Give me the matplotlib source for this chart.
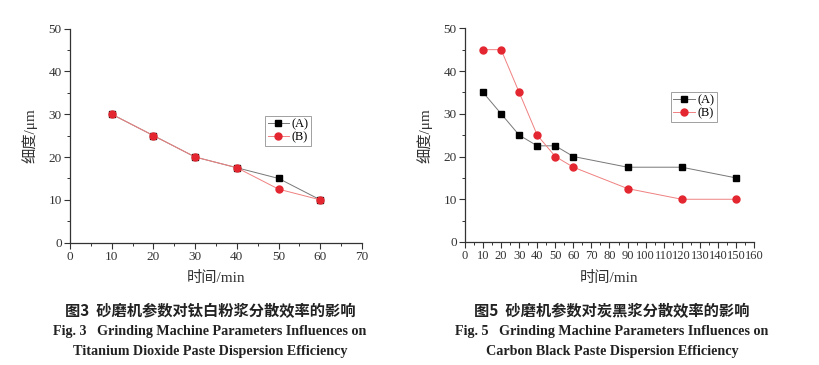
import matplotlib
matplotlib.use("Agg")
import matplotlib.pyplot as plt
from matplotlib.ticker import MultipleLocator

plt.rcParams['font.family'] = ['Liberation Serif', 'Noto Sans CJK SC']
plt.rcParams['mathtext.fontset'] = 'stix'

# Fig.3 data
t3 = [10, 20, 30, 40, 50, 60]
a3 = [30, 25, 20, 17.5, 15, 10]
b3 = [30, 25, 20, 17.5, 12.5, 10]

# Fig.5 data
t5 = [10, 20, 30, 40, 50, 60, 90, 120, 150]
a5 = [35, 30, 25, 22.5, 22.5, 20, 17.5, 17.5, 15]
b5 = [45, 45, 35, 25, 20, 17.5, 12.5, 10, 10]

labels = ['(A)', '(B)']
xlabel = '时间/min'
ylabel = '细度/μm'
cap3 = ['图3  砂磨机参数对钛白粉浆分散效率的影响',
        'Fig. 3   Grinding Machine Parameters Influences on',
        'Titanium Dioxide Paste Dispersion Efficiency']
cap5 = ['图5  砂磨机参数对炭黑浆分散效率的影响',
        'Fig. 5   Grinding Machine Parameters Influences on',
        'Carbon Black Paste Dispersion Efficiency']

fig = plt.figure(figsize=(8.2, 3.65), dpi=100)

def style(ax, xmax, xmaj, lsize):
    ax.set_xlim(0, xmax)
    ax.set_ylim(0, 50)
    ax.xaxis.set_major_locator(MultipleLocator(xmaj))
    ax.xaxis.set_minor_locator(MultipleLocator(xmaj / 2))
    ax.yaxis.set_major_locator(MultipleLocator(10))
    ax.yaxis.set_minor_locator(MultipleLocator(5))
    for s in ['top', 'right']:
        ax.spines[s].set_visible(False)
    for s in ['left', 'bottom']:
        ax.spines[s].set_color('#333333')
        ax.spines[s].set_linewidth(0.9)
    ax.tick_params(which='major', direction='out', length=4, width=0.8,
                   labelsize=lsize, colors='#333333', pad=2)
    ax.tick_params(axis='y', which='major', labelsize=9.5)
    ax.tick_params(which='minor', direction='out', length=2, width=0.7,
                   colors='#333333')
    ax.set_facecolor('none')

def draw(ax, t, a, b, legpos):
    ax.plot(t, a, color='#777777', lw=0.7, marker='s', ms=4.5,
            mfc='black', mec='black', label=labels[0], zorder=3)
    ax.plot(t, b, color='#f08080', lw=0.7, marker='o', ms=5,
            mfc='#e32630', mec='#e32630', label=labels[1], zorder=4)
    leg = ax.legend(loc='upper left', bbox_to_anchor=legpos, fontsize=9,
                    frameon=True, fancybox=False, edgecolor='#888888',
                    handlelength=1.7, handletextpad=0.2, borderpad=0.2,
                    labelspacing=0.1, borderaxespad=0)
    leg.get_frame().set_linewidth(0.7)

# left chart
ax1 = fig.add_axes([70/820, 1-242.7/365, 292/820, 214.2/365])
style(ax1, 70, 10, 9.5)
draw(ax1, t3, a3, b3, ((265-70)/292, (242.7-116)/214.2))
ax1.set_xlabel(xlabel, fontsize=11, labelpad=6, color='#333333')
ax1.set_ylabel(ylabel, fontsize=11, labelpad=8, color='#333333')

# right chart
ax2 = fig.add_axes([465/820, 1-242/365, 289/820, 213.7/365])
style(ax2, 160, 10, 9)
ax2.xaxis.set_minor_locator(MultipleLocator(5))
draw(ax2, t5, a5, b5, ((671-465)/289, (242-92)/213.7))
ax2.set_xlabel(xlabel, fontsize=11, labelpad=6, color='#333333')
ax2.set_ylabel(ylabel, fontsize=11, labelpad=8, color='#333333')

# captions
for cx, cap in [(210, cap3), (612, cap5)]:
    fig.text(cx/820, 1-311/365, cap[0], ha='center', va='center',
             fontsize=11, fontweight='bold', family=['Noto Sans CJK SC'],
             color='#222222')
    fig.text(cx/820, 1-331/365, cap[1], ha='center', va='center',
             fontsize=10.2, fontweight='bold', color='#222222')
    fig.text(cx/820, 1-351/365, cap[2], ha='center', va='center',
             fontsize=10.2, fontweight='bold', color='#222222')

fig.savefig('out.png', dpi=100)
